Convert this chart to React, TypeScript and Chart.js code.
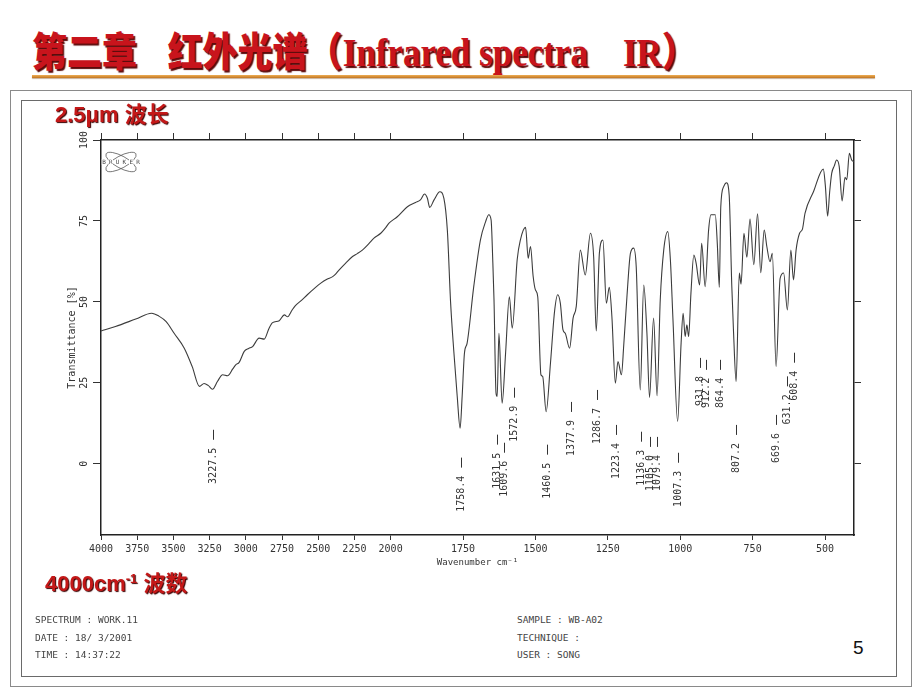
import React, { useEffect, useRef } from 'react';
import { Chart, registerables, LinearScale } from 'chart.js';

Chart.register(...registerables);

// ---------------- data ----------------
const wavenumbers = [
  4000, 3900, 3760, 3650, 3600, 3550, 3495, 3425, 3370, 3320,
  3288, 3260, 3230, 3195, 3160, 3126, 3090, 3068, 3046, 3011,
  2980, 2953, 2908, 2873, 2840, 2815, 2769, 2734, 2711, 2680,
  2659, 2620, 2575, 2530, 2482, 2440, 2400, 2380, 2355, 2310,
  2263, 2230, 2195, 2150, 2115, 2068, 2040, 2011, 1977, 1942,
  1914, 1897, 1883, 1873, 1865, 1850, 1830, 1816, 1804, 1793,
  1782, 1770, 1760, 1753, 1745, 1736, 1713, 1690, 1672, 1661,
  1653, 1647, 1643, 1636, 1632, 1626, 1615, 1603, 1590, 1580,
  1563, 1552, 1534, 1525, 1517, 1508, 1500, 1492, 1481, 1475,
  1463, 1448, 1434, 1423, 1414, 1405, 1397, 1382, 1370, 1359,
  1345, 1328, 1310, 1299, 1290, 1279, 1267, 1255, 1245, 1236,
  1224, 1215, 1203, 1195, 1184, 1172, 1161, 1152, 1138, 1126,
  1115, 1106, 1092, 1080, 1069, 1057, 1043, 1034, 1025, 1009,
  997, 990, 983, 977, 971, 963, 953, 945, 933, 926,
  914, 902, 894, 879, 872, 865, 860, 850, 840, 831,
  822, 816, 807, 796, 790, 780, 770, 759, 746, 733,
  722, 710, 701, 690, 682, 669, 655, 643, 630, 618,
  609, 600, 588, 578, 569, 540, 506, 499, 491, 484,
  477, 468, 460, 451, 441, 431, 425, 416, 408, 400,
];

const transmittance = [
  41.0, 42.4, 44.7, 46.5, 45.6, 43.9, 40.3, 35.7, 30.0, 23.9,
  24.8, 24.2, 23.0, 25.5, 27.5, 27.2, 29.3, 30.6, 31.3, 34.7,
  35.6, 36.2, 38.8, 38.5, 41.8, 43.6, 44.2, 46.0, 45.4, 47.5,
  48.8, 50.3, 52.2, 54.0, 55.8, 57.0, 57.8, 58.6, 59.9, 62.0,
  64.0, 64.9, 66.0, 68.0, 69.7, 71.2, 72.6, 74.3, 76.3, 79.4,
  80.7, 81.5, 83.3, 82.0, 79.2, 81.5, 84.0, 82.0, 72.0, 50.0,
  35.0, 20.8, 11.0, 20.8, 34.2, 37.2, 54.7, 69.1, 74.8, 76.9,
  75.3, 62.0, 50.6, 21.8, 20.8, 40.3, 18.7, 34.2, 51.6, 41.9,
  63.0, 69.1, 73.0, 63.5, 67.1, 58.0, 53.7, 51.6, 27.5, 27.0,
  16.1, 31.1, 47.0, 52.2, 49.6, 41.4, 40.3, 35.7, 45.0, 48.6,
  66.0, 58.3, 71.2, 64.0, 41.0, 65.2, 69.1, 49.6, 54.5, 45.5,
  24.9, 31.6, 27.5, 36.7, 51.6, 65.0, 66.6, 60.9, 22.8, 55.2,
  40.3, 20.5, 45.0, 21.0, 50.6, 66.0, 71.7, 63.0, 44.4, 13.1,
  37.2, 46.5, 39.3, 42.9, 39.3, 52.7, 64.5, 61.9, 55.2, 68.1,
  54.7, 72.2, 76.9, 76.9, 68.0, 54.5, 79.4, 85.6, 86.8, 83.0,
  55.0, 40.8, 25.4, 58.9, 55.5, 71.2, 63.8, 75.6, 61.5, 77.2,
  59.0, 72.2, 67.1, 62.4, 65.0, 30.0, 57.3, 58.9, 47.5, 66.0,
  56.8, 66.0, 71.2, 72.5, 77.4, 84.0, 91.0, 86.0, 76.5, 84.0,
  89.7, 92.0, 93.8, 91.8, 81.2, 88.5, 87.7, 95.9, 93.8, 93.3,
];

const xTickValues = [4000, 3750, 3500, 3250, 3000, 2750, 2500, 2250, 2000, 1750, 1500, 1250, 1000, 750, 500];
const yTickValues = [0, 25, 50, 75, 100];

const peakWavenumbers = [
  3227.5, 1758.4, 1631.5, 1609.6, 1572.9, 1460.5, 1377.9, 1286.7, 1223.4, 1136.3,
  1105.0, 1079.4, 1007.3, 931.8, 912.2, 864.4, 807.2, 669.6, 631.2, 608.4,
];
// transmittance level at which each peak marker starts
const peakMarkerLevels = [
  10.5, 1.9, 9.0, 6.5, 23.5, 5.9, 19.1, 22.8, 12.0, 9.9,
  8.3, 8.3, 3.4, 32.7, 32.1, 32.1, 12.0, 15.1, 27.0, 34.3,
];

const footerLeft = ['SPECTRUM : WORK.11', 'DATE : 18/ 3/2001', 'TIME : 14:37:22'];
const footerRight = ['SAMPLE : WB-A02', 'TECHNIQUE :', 'USER : SONG'];

// ---------------- broken wavenumber scale (2000 cm-1 scale change) ----------------
const fwd = (v: number) => (v <= 2000 ? v : 2000 + (v - 2000) / 2);
const inv = (u: number) => (u <= 2000 ? u : 2000 + (u - 2000) * 2);

class BrokenLinearScale extends LinearScale {
  static id = 'brokenLinear';
  static defaults = {};
  getPixelForValue(value: number) {
    const a = fwd(this.min);
    const b = fwd(this.max);
    return this.getPixelForDecimal((fwd(value) - a) / (b - a));
  }
  getValueForPixel(pixel: number) {
    const a = fwd(this.min);
    const b = fwd(this.max);
    return inv(a + this.getDecimalForPixel(pixel) * (b - a));
  }
}
Chart.register(BrokenLinearScale as any);

const MONO = "'DejaVu Sans Mono', 'Liberation Mono', monospace";
const INK = '#333';

const overlayPlugin = {
  id: 'irOverlay',
  afterDraw(chart: any) {
    const { ctx, chartArea, scales } = chart;
    const xs = scales.x;
    const ys = scales.y;
    ctx.save();
    ctx.fillStyle = INK;
    ctx.strokeStyle = INK;
    ctx.lineWidth = 1;
    ctx.font = `10px ${MONO}`;

    // rotated y tick labels
    ctx.textAlign = 'center';
    ctx.textBaseline = 'middle';
    yTickValues.forEach((v) => {
      const py = ys.getPixelForValue(v);
      ctx.save();
      ctx.translate(chartArea.left - 17, py);
      ctx.rotate(-Math.PI / 2);
      ctx.fillText(String(v), 0, 0);
      ctx.restore();
    });

    // peak markers and labels
    peakWavenumbers.forEach((wn, i) => {
      const px = Math.round(xs.getPixelForValue(wn)) + 0.5;
      const py = ys.getPixelForValue(peakMarkerLevels[i]);
      ctx.beginPath();
      ctx.moveTo(px, py);
      ctx.lineTo(px, py + 10);
      ctx.stroke();
      ctx.save();
      ctx.translate(px, py + 18);
      ctx.rotate(-Math.PI / 2);
      ctx.textAlign = 'right';
      ctx.textBaseline = 'middle';
      ctx.fillText(wn.toFixed(1), 0, 0);
      ctx.restore();
    });

    // BRUKER logo
    const cx = chartArea.left + 20;
    const cy = chartArea.top + 22;
    ctx.strokeStyle = '#555';
    ctx.lineWidth = 0.8;
    [0.5, -0.5].forEach((r) => {
      ctx.beginPath();
      ctx.ellipse(cx, cy, 17, 6, r, 0, Math.PI * 2);
      ctx.stroke();
    });
    ctx.font = `6px ${MONO}`;
    ctx.textAlign = 'center';
    ctx.textBaseline = 'middle';
    'BRUKER'.split('').forEach((ch, i) => {
      const lx = cx - 17 + i * 6.8;
      ctx.fillStyle = '#fff';
      ctx.fillRect(lx - 2.2, cy - 3, 4.4, 6);
      ctx.fillStyle = '#444';
      ctx.fillText(ch, lx, cy);
    });
    ctx.restore();
  },
};

const axisBorder = { display: true, color: '#222', width: 1.5 };

export default function App() {
  const ref = useRef<HTMLCanvasElement>(null);

  useEffect(() => {
    const points = wavenumbers.map((w, i) => ({ x: w, y: transmittance[i] }));
    const chart = new Chart(ref.current as HTMLCanvasElement, {
      type: 'line',
      data: {
        datasets: [
          {
            data: points,
            borderColor: '#3c3c3c',
            borderWidth: 1.1,
            pointRadius: 0,
            fill: false,
            cubicInterpolationMode: 'monotone',
            xAxisID: 'x',
            yAxisID: 'y',
          },
        ],
      },
      options: {
        responsive: false,
        animation: false,
        devicePixelRatio: 1,
        layout: { padding: { left: 0, right: 0, top: 0, bottom: 5 } },
        plugins: { legend: { display: false }, tooltip: { enabled: false } },
        scales: {
          x: {
            type: 'brokenLinear' as any,
            position: 'bottom',
            min: 400,
            max: 4000,
            reverse: true,
            afterBuildTicks: (s: any) => {
              s.ticks = xTickValues.map((v) => ({ value: v }));
            },
            afterFit: (s: any) => {
              s.height = 35;
            },
            ticks: {
              autoSkip: false,
              maxRotation: 0,
              minRotation: 0,
              color: INK,
              padding: 3,
              font: { family: MONO, size: 10 },
              callback: (v: any) => String(v),
            },
            grid: { drawOnChartArea: false, drawTicks: true, tickLength: 5, color: INK, lineWidth: 1 },
            border: axisBorder,
            title: {
              display: true,
              text: 'Wavenumber cm⁻¹',
              color: INK,
              font: { family: MONO, size: 9 },
              padding: { top: 0, bottom: 2 },
            },
          },
          xTop: {
            type: 'brokenLinear' as any,
            position: 'top',
            min: 400,
            max: 4000,
            reverse: true,
            afterBuildTicks: (s: any) => {
              s.ticks = xTickValues.map((v) => ({ value: v }));
            },
            afterFit: (s: any) => {
              s.height = 15;
            },
            ticks: { display: false },
            grid: { drawOnChartArea: false, drawTicks: true, tickLength: 7, color: INK, lineWidth: 1 },
            border: axisBorder,
          },
          y: {
            type: 'linear',
            position: 'left',
            min: -22,
            max: 100,
            afterBuildTicks: (s: any) => {
              s.ticks = yTickValues.map((v) => ({ value: v }));
            },
            afterFit: (s: any) => {
              s.width = 61;
            },
            ticks: { display: false },
            grid: { drawOnChartArea: false, drawTicks: true, tickLength: 8, color: INK, lineWidth: 1 },
            border: axisBorder,
            title: {
              display: true,
              text: 'Transmittance [%]',
              color: INK,
              font: { family: MONO, size: 10 },
              padding: { top: 26, bottom: 0 },
            },
          },
          yRight: {
            type: 'linear',
            position: 'right',
            min: -22,
            max: 100,
            afterBuildTicks: (s: any) => {
              s.ticks = yTickValues.map((v) => ({ value: v }));
            },
            afterFit: (s: any) => {
              s.width = 16;
            },
            ticks: { display: false },
            grid: { drawOnChartArea: false, drawTicks: true, tickLength: 7, color: INK, lineWidth: 1 },
            border: axisBorder,
          },
        },
      } as any,
      plugins: [overlayPlugin],
    });
    return () => chart.destroy();
  }, []);

  const redLabel: React.CSSProperties = {
    position: 'absolute',
    fontFamily: "'Liberation Sans', 'Noto Sans CJK SC', sans-serif",
    fontWeight: 700,
    fontSize: 22,
    lineHeight: '24px',
    color: '#C41818',
    textShadow: '1px 1px 1px #3a0000',
    whiteSpace: 'pre',
  };
  const footer: React.CSSProperties = {
    position: 'absolute',
    fontFamily: MONO,
    fontSize: 9.5,
    lineHeight: '17.5px',
    color: '#444',
    whiteSpace: 'pre',
  };
  const cjk = "'Noto Sans CJK SC', sans-serif";

  return (
    <div
      style={{
        position: 'absolute',
        left: 0,
        top: 0,
        width: 920,
        height: 690,
        background: '#fff',
        overflow: 'hidden',
      }}
    >
      {/* title */}
      <div
        style={{
          position: 'absolute',
          left: 32,
          top: 27,
          whiteSpace: 'pre',
          fontSize: 40,
          lineHeight: '44px',
          color: '#C8141C',
          fontWeight: 900,
          transform: 'scaleX(0.875)',
          transformOrigin: 'left top',
          textShadow: '2px 2px 1px #5c0a0a',
        }}
      >
        <span style={{ fontFamily: cjk }}>第二章</span>
        <span style={{ display: 'inline-block', width: 35 }} />
        <span style={{ fontFamily: cjk }}>红外光谱（</span>
        <span style={{ fontFamily: "'Liberation Serif', serif", fontWeight: 700 }}>Infrared spectra    IR</span>
        <span style={{ fontFamily: cjk }}>）</span>
      </div>
      <div
        style={{
          position: 'absolute',
          left: 32,
          top: 75,
          width: 843,
          height: 3,
          background: 'linear-gradient(#EDAE55, #C27520)',
          boxShadow: '0 1px 1px rgba(120,60,0,0.4)',
        }}
      />

      {/* scanned sheet frames */}
      <div style={{ position: 'absolute', left: 10, top: 90, width: 902, height: 597, border: '1px solid #8a8a8a', boxSizing: 'border-box' }} />
      <div style={{ position: 'absolute', left: 21, top: 100, width: 876, height: 577, border: '1px solid #6a6a6a', boxSizing: 'border-box' }} />

      <canvas
        ref={ref}
        width={830}
        height={450}
        style={{ position: 'absolute', left: 40, top: 125, width: 830, height: 450 }}
      />

      {/* red annotations */}
      <div style={{ ...redLabel, left: 55, top: 100 }}>
        2.5μm <span style={{ fontFamily: cjk }}>波长</span>
      </div>
      <div style={{ ...redLabel, left: 45, top: 569 }}>
        4000cm<sup style={{ fontSize: 13, lineHeight: 0 }}>-1</sup> <span style={{ fontFamily: cjk }}>波数</span>
      </div>

      {/* footer */}
      <div style={{ ...footer, left: 35, top: 611 }}>
        {footerLeft.map((t) => (
          <div key={t}>{t}</div>
        ))}
      </div>
      <div style={{ ...footer, left: 517, top: 611 }}>
        {footerRight.map((t) => (
          <div key={t}>{t}</div>
        ))}
      </div>
      <div
        style={{
          position: 'absolute',
          left: 853,
          top: 637,
          fontFamily: "'Liberation Sans', sans-serif",
          fontSize: 19,
          lineHeight: '22px',
          color: '#111',
        }}
      >
        5
      </div>
    </div>
  );
}
